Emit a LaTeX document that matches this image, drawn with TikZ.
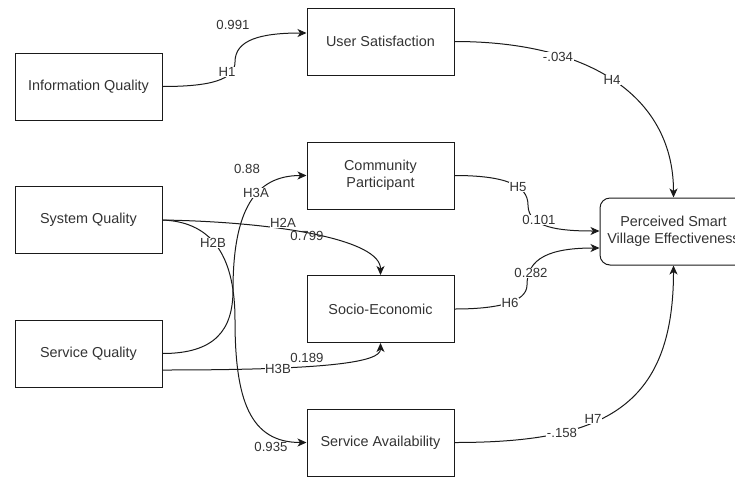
\documentclass[tikz,border=0pt]{standalone}
\usepackage{fontspec}
\setmainfont{Liberation Sans}
\usetikzlibrary{arrows.meta}
\definecolor{txt}{HTML}{333333}
\definecolor{ln}{HTML}{1A1A1A}
\begin{document}
\begin{tikzpicture}[x=1pt,y=-1pt,
  box/.style={draw=ln, line width=1pt, minimum width=147pt, minimum height=67pt,
    inner sep=0pt, align=center, text=txt, font=\fontsize{14.4}{17}\selectfont},
  conn/.style={draw=ln, line width=1pt, -{Stealth[length=9pt,width=8pt,inset=2.5pt]}},
  lbl/.style={font=\fontsize{13.2}{15}\selectfont, text=txt, inner sep=0.5pt},
  lblw/.style={lbl, fill=white}]
\useasboundingbox (0,0) rectangle (735,477);
\clip (0,0) rectangle (735,477);

% boxes
\node[box] (iq)  at (88.5,86.5)  {Information Quality};
\node[box] (sq)  at (88.5,220)   {System Quality};
\node[box] (svq) at (88.5,353.5) {Service Quality};
\node[box] (us)  at (380.5,41.5) {User Satisfaction};
\node[box] (cp)  at (380.5,175.5) {Community\\Participant};
\node[box] (se)  at (380.5,309)  {Socio-Economic};
\node[box] (sa)  at (380.5,442.5) {Service Availability};
\node[box, rounded corners=10pt] (pe) at (673.5,231.5) {Perceived Smart\\Village Effectiveness};

% connectors
\draw[conn] (iq.east) .. controls (210,86.5) and (235,80) .. (235,62)
  .. controls (235,40) and (260,33) .. ([yshift=8.5pt]us.west);
\draw[conn] (us.east) .. controls (595,41.5) and (673.5,100) .. (pe.north);
\draw[conn] (sq.east) .. controls (280,222) and (380.5,240) .. (se.north);
\draw[conn] (sq.east) .. controls (215,222) and (235,260) .. (235,320)
  .. controls (235,400) and (250,442.5) .. (sa.west);
\draw[conn] ([yshift=0pt]svq.east) .. controls (215,353.5) and (233,330) .. (233,290)
  .. controls (233,210) and (255,175.5) .. (cp.west);
\draw[conn] ([yshift=-16.5pt]svq.east) .. controls (330,370) and (380.5,362) .. (se.south);
\draw[conn] (cp.east) .. controls (505,175.5) and (528,185) .. (528,205)
  .. controls (528,228) and (560,231) .. ([yshift=0.5pt]pe.west);
\draw[conn] (se.east) .. controls (495,309) and (527,303) .. (527,285)
  .. controls (527,258) and (550,248) .. ([yshift=-16.5pt]pe.west);
\draw[conn] (sa.east) .. controls (600,442.5) and (673.5,410) .. (pe.south);

% labels
\node[lblw] (l1)  at (227,72)  {H1};
\node[lbl]  (v1)  at (233,25)  {0.991};
\node[lblw] (v4)  at (558,57)  {-.034};
\node[lblw] (l4)  at (612,80)  {H4};
\node[lbl]  (v3a) at (247,169) {0.88};
\node[lblw] (l3a) at (256,193) {H3A};
\node[lblw] (l2a) at (283,223) {H2A};
\node[lbl]  (v2a) at (307,236) {0.799};
\node[lblw] (l2b) at (213,243) {H2B};
\node[lbl]  (v2b) at (271,447) {0.935};
\node[lblw] (l3b) at (278,369) {H3B};
\node[lbl]  (v3b) at (307,358) {0.189};
\node[lblw] (l5)  at (518,187) {H5};
\node[lblw] (v5)  at (539,220) {0.101};
\node[lblw] (v6)  at (531,273) {0.282};
\node[lblw] (l6)  at (510,303) {H6};
\node[lblw] (v7)  at (562,433) {-.158};
\node[lblw] (l7)  at (593,419) {H7};
\end{tikzpicture}
\end{document}
